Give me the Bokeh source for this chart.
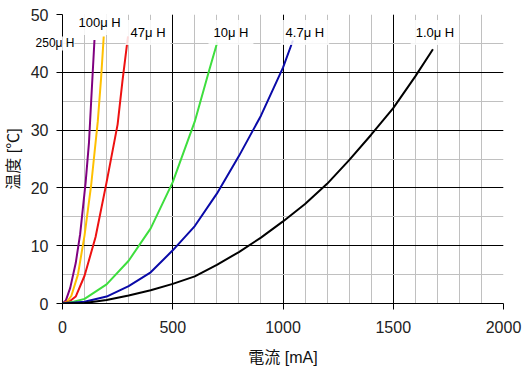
from bokeh.plotting import figure
from bokeh.models import Range1d, SingleIntervalTicker, Label
from bokeh.embed import file_html
from bokeh.resources import INLINE

# ---- data ----
i_250 = [0, 15, 35, 60, 80, 105, 120, 130, 145]
t_250 = [0, 0.5, 2.7, 7.0, 12.0, 21.0, 27.8, 35.0, 45.6]

i_100 = [0, 20, 40, 70, 100, 130, 160, 175, 187]
t_100 = [0, 0.3, 1.3, 5.0, 11.8, 20.5, 31.5, 39.0, 46.2]

i_47 = [0, 30, 60, 100, 150, 200, 250, 272, 297]
t_47 = [0, 0.3, 1.2, 4.8, 11.5, 21.0, 31.0, 38.5, 46.2]

i_10 = [0, 50, 100, 200, 300, 400, 500, 600, 665, 702]
t_10 = [0, 0.3, 0.8, 3.3, 7.4, 13.0, 21.0, 31.5, 40.3, 45.2]

i_4_7 = [0, 100, 200, 300, 400, 500, 600, 700, 800, 900, 1000, 1045]
t_4_7 = [0, 0.3, 1.2, 3.0, 5.4, 9.2, 13.4, 19.0, 25.5, 32.5, 40.8, 45.5]

i_1_0 = [0, 100, 200, 300, 400, 500, 600, 700, 800, 900, 1000, 1100, 1200, 1300, 1400, 1500, 1600, 1680]
t_1_0 = [0, 0.1, 0.6, 1.4, 2.3, 3.4, 4.7, 6.7, 8.9, 11.4, 14.2, 17.2, 20.7, 24.8, 29.2, 33.8, 39.3, 44.0]

series_labels = ["250μ H", "100μ H", "47μ H", "10μ H", "4.7μ H", "1.0μ H"]
x_title = "電流 [mA]"
y_title = "温度 [℃]"

p = figure(width=526, height=369, output_backend="svg", toolbar_location=None,
           x_range=Range1d(0, 2000), y_range=Range1d(0, 50),
           min_border_left=62, min_border_right=23, min_border_top=14, min_border_bottom=66)
p.outline_line_color = None
p.background_fill_color = "white"
p.border_fill_color = "white"

p.xaxis.ticker = SingleIntervalTicker(interval=500, num_minor_ticks=5)
p.yaxis.ticker = SingleIntervalTicker(interval=10, num_minor_ticks=2)

for g in (p.xgrid, p.ygrid):
    g.grid_line_color = "black"
    g.grid_line_width = 1
    g.minor_grid_line_color = "#c0c0c0"
    g.minor_grid_line_width = 1

tick_font = "'Liberation Sans', Arial, sans-serif"
title_font = "'Liberation Sans', 'Noto Sans CJK JP', sans-serif"
for ax in (p.xaxis, p.yaxis):
    ax.axis_line_color = "black"
    ax.major_tick_line_color = "black"
    ax.major_tick_in = 0
    ax.major_tick_out = 6
    ax.minor_tick_line_color = None
    ax.major_label_text_font = tick_font
    ax.major_label_text_font_size = "16px"
    ax.major_label_text_color = "#222222"
    ax.axis_label_text_font = title_font
    ax.axis_label_text_font_size = "16px"
    ax.axis_label_text_font_style = "normal"
    ax.axis_label_text_color = "#111111"

p.xaxis.major_label_standoff = 11
p.yaxis.major_label_standoff = 8
p.xaxis.axis_label = x_title
p.yaxis.axis_label = y_title
p.xaxis.axis_label_standoff = 13
p.yaxis.axis_label_standoff = 6

curves = [
    (i_250, t_250, "#800080"),
    (i_100, t_100, "#ffc000"),
    (i_47, t_47, "#ee1111"),
    (i_10, t_10, "#3ede3e"),
    (i_4_7, t_4_7, "#0a0aa8"),
    (i_1_0, t_1_0, "black"),
]
for xs, ys, c in curves:
    p.line(xs, ys, line_color=c, line_width=2)

label_font = "'Liberation Sans', 'Noto Sans CJK JP', sans-serif"
label_pos = [(-122, 45.0), (50, 48.6), (286, 46.9), (662, 46.9), (989, 46.9), (1579, 46.9)]
for k, (txt, (lx, ly)) in enumerate(zip(series_labels, label_pos)):
    lab = Label(x=lx, y=ly, text=txt, text_font=label_font,
                text_font_size="13px" if k else "12px", text_color="black", text_align="left",
                text_baseline="middle", background_fill_color="white",
                background_fill_alpha=0.85, padding=0 if k == 0 else 5)
    # the first label reaches left of the plot frame; a side panel keeps it unclipped
    p.add_layout(lab, "above" if k == 0 else "center")

open("out.html", "w").write(file_html(p, INLINE))
